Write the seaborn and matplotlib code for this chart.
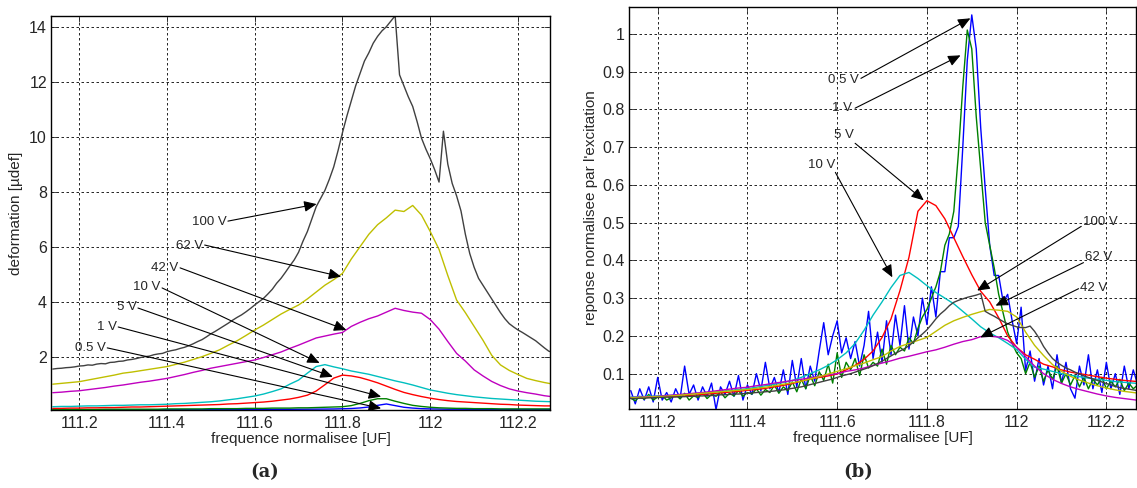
import numpy as np
import matplotlib.pyplot as plt
import seaborn as sns

sns.set_style('white')
plt.rcParams['font.family'] = ['Liberation Sans', 'DejaVu Sans']

# frequency axes (UF): fine grid 0.01, coarse grid 0.02
freq_fine = np.round(np.arange(11114, 11229) / 100, 2)
freq_coarse = np.round(np.arange(11114, 11229, 2) / 100, 2)

volts = ['0.5 V', '1 V', '5 V', '10 V', '42 V', '62 V', '100 V']

# ---- panel (a): deformation [udef] ----
a_100 = [1.55, 1.57, 1.58, 1.60, 1.61, 1.63, 1.66, 1.67, 1.70, 1.69,
         1.73, 1.75, 1.74, 1.79, 1.80, 1.83, 1.84, 1.88, 1.90, 1.93,
         1.97, 2.00, 2.02, 2.07, 2.10, 2.12, 2.18, 2.22, 2.25, 2.30,
         2.34, 2.40, 2.47, 2.55, 2.62, 2.72, 2.83, 2.92, 3.02, 3.12,
         3.22, 3.33, 3.43, 3.52, 3.63, 3.75, 3.88, 4.00, 4.12, 4.28,
         4.45, 4.67, 4.85, 5.07, 5.30, 5.52, 5.80, 6.20, 6.55, 7.00,
         7.45, 7.75, 8.05, 8.45, 8.90, 9.50, 10.15, 10.75, 11.30, 11.85,
         12.30, 12.75, 13.05, 13.40, 13.65, 13.85, 14.00, 14.20, 14.40, 12.25,
         11.85, 11.45, 11.10, 10.55, 9.95, 9.55, 9.20, 8.80, 8.35, 10.20,
         9.00, 8.30, 7.85, 7.30, 6.45, 5.75, 5.25, 4.85, 4.60, 4.35,
         4.10, 3.85, 3.60, 3.38, 3.20, 3.08, 2.97, 2.88, 2.78, 2.68,
         2.58, 2.45, 2.32, 2.20, 2.15]
a_62 = [1.00, 1.03, 1.06, 1.09, 1.15, 1.21, 1.27, 1.33, 1.40, 1.44,
        1.49, 1.54, 1.59, 1.64, 1.72, 1.80, 1.90, 2.00, 2.12, 2.25,
        2.42, 2.58, 2.77, 2.97, 3.15, 3.35, 3.55, 3.72, 3.88, 4.10,
        4.35, 4.60, 4.80, 5.03, 5.55, 6.00, 6.45, 6.80, 7.05, 7.33,
        7.28, 7.50, 7.15, 6.55, 5.90, 4.95, 4.06, 3.60, 3.10, 2.60,
        2.05, 1.70, 1.50, 1.35, 1.21, 1.13, 1.06, 1.00]
a_42 = [0.69, 0.71, 0.74, 0.76, 0.80, 0.84, 0.88, 0.93, 0.97, 1.02,
        1.07, 1.11, 1.16, 1.21, 1.28, 1.35, 1.43, 1.50, 1.58, 1.64,
        1.70, 1.76, 1.82, 1.88, 1.97, 2.07, 2.17, 2.30, 2.42, 2.55,
        2.68, 2.75, 2.82, 2.88, 3.10, 3.25, 3.38, 3.48, 3.62, 3.76,
        3.68, 3.62, 3.58, 3.35, 3.00, 2.55, 2.12, 1.84, 1.52, 1.30,
        1.10, 0.95, 0.83, 0.75, 0.69, 0.64, 0.58, 0.54]
a_10 = [0.18, 0.19, 0.19, 0.20, 0.21, 0.21, 0.22, 0.23, 0.23, 0.24,
        0.25, 0.25, 0.26, 0.27, 0.29, 0.30, 0.32, 0.34, 0.36, 0.39,
        0.43, 0.47, 0.52, 0.57, 0.64, 0.73, 0.83, 1.00, 1.15, 1.40,
        1.64, 1.71, 1.63, 1.56, 1.48, 1.42, 1.36, 1.28, 1.20, 1.12,
        1.05, 0.97, 0.88, 0.79, 0.73, 0.67, 0.62, 0.58, 0.54, 0.51,
        0.48, 0.46, 0.44, 0.42, 0.40, 0.38, 0.37, 0.36]
a_5 = [0.12, 0.12, 0.13, 0.13, 0.14, 0.14, 0.15, 0.15, 0.16, 0.17,
       0.17, 0.18, 0.19, 0.20, 0.21, 0.22, 0.23, 0.24, 0.25, 0.26,
       0.28, 0.29, 0.31, 0.33, 0.35, 0.38, 0.42, 0.46, 0.52, 0.60,
       0.75, 0.98, 1.22, 1.33, 1.30, 1.24, 1.15, 1.05, 0.93, 0.81,
       0.70, 0.62, 0.55, 0.49, 0.44, 0.40, 0.37, 0.35, 0.33, 0.31,
       0.29, 0.27, 0.26, 0.24, 0.23, 0.22, 0.21, 0.21]
a_1 = [0.08, 0.08, 0.08, 0.08, 0.08, 0.08, 0.09, 0.09, 0.09, 0.09,
       0.09, 0.09, 0.09, 0.10, 0.10, 0.10, 0.10, 0.10, 0.11, 0.11,
       0.11, 0.11, 0.12, 0.12, 0.12, 0.13, 0.13, 0.13, 0.14, 0.14,
       0.15, 0.16, 0.17, 0.18, 0.22, 0.30, 0.40, 0.47, 0.47, 0.38,
       0.30, 0.23, 0.19, 0.16, 0.14, 0.13, 0.12, 0.12, 0.11, 0.11,
       0.11, 0.10, 0.10, 0.10, 0.10, 0.10, 0.10, 0.10]
a_05 = [0.065, 0.065, 0.066, 0.066, 0.067, 0.067, 0.068, 0.068, 0.069, 0.069,
        0.070, 0.070, 0.071, 0.072, 0.072, 0.073, 0.074, 0.075, 0.076, 0.077,
        0.078, 0.079, 0.080, 0.081, 0.082, 0.083, 0.085, 0.086, 0.088, 0.090,
        0.092, 0.095, 0.098, 0.105, 0.115, 0.135, 0.170, 0.230, 0.280, 0.220,
        0.160, 0.130, 0.110, 0.100, 0.095, 0.090, 0.090, 0.088, 0.086, 0.085,
        0.084, 0.083, 0.082, 0.081, 0.080, 0.080, 0.079, 0.079]

# ---- panel (b): response normalised by excitation ----
b_100 = [0.034, 0.034, 0.035, 0.035, 0.036, 0.036, 0.037, 0.037, 0.038, 0.038,
         0.038, 0.039, 0.039, 0.040, 0.040, 0.041, 0.041, 0.042, 0.042, 0.043,
         0.044, 0.044, 0.045, 0.046, 0.046, 0.047, 0.048, 0.049, 0.050, 0.051,
         0.052, 0.053, 0.054, 0.056, 0.057, 0.059, 0.061, 0.063, 0.065, 0.068,
         0.071, 0.074, 0.077, 0.080, 0.083, 0.086, 0.090, 0.094, 0.097, 0.100,
         0.104, 0.108, 0.112, 0.116, 0.121, 0.127, 0.133, 0.140, 0.147, 0.154,
         0.160, 0.166, 0.174, 0.184, 0.195, 0.205, 0.216, 0.230, 0.245, 0.258,
         0.268, 0.280, 0.289, 0.294, 0.298, 0.302, 0.305, 0.308, 0.312, 0.265,
         0.258, 0.252, 0.245, 0.238, 0.232, 0.228, 0.224, 0.222, 0.222, 0.226,
         0.212, 0.194, 0.172, 0.155, 0.140, 0.130, 0.122, 0.115, 0.110, 0.104,
         0.099, 0.094, 0.090, 0.086, 0.082, 0.078, 0.074, 0.070, 0.066, 0.063,
         0.061, 0.059, 0.057, 0.055, 0.054]
b_62 = [0.036, 0.037, 0.038, 0.039, 0.040, 0.042, 0.044, 0.046, 0.048, 0.050,
        0.052, 0.054, 0.056, 0.058, 0.061, 0.064, 0.068, 0.072, 0.076, 0.080,
        0.086, 0.092, 0.099, 0.106, 0.113, 0.121, 0.128, 0.137, 0.145, 0.160,
        0.172, 0.180, 0.188, 0.196, 0.212, 0.228, 0.240, 0.249, 0.257, 0.264,
        0.270, 0.268, 0.265, 0.250, 0.210, 0.175, 0.148, 0.124, 0.106, 0.093,
        0.083, 0.075, 0.068, 0.062, 0.057, 0.053, 0.050, 0.047]
b_42 = [0.037, 0.038, 0.039, 0.040, 0.042, 0.044, 0.046, 0.048, 0.050, 0.053,
        0.056, 0.059, 0.062, 0.064, 0.068, 0.071, 0.075, 0.078, 0.082, 0.085,
        0.089, 0.093, 0.097, 0.100, 0.106, 0.110, 0.115, 0.122, 0.128, 0.134,
        0.141, 0.146, 0.152, 0.158, 0.163, 0.170, 0.178, 0.185, 0.190, 0.198,
        0.199, 0.197, 0.188, 0.170, 0.145, 0.120, 0.100, 0.085, 0.074, 0.065,
        0.058, 0.052, 0.046, 0.041, 0.037, 0.034, 0.031, 0.028]
b_10 = [0.038, 0.039, 0.040, 0.041, 0.042, 0.043, 0.045, 0.047, 0.049, 0.051,
        0.053, 0.055, 0.058, 0.060, 0.064, 0.068, 0.072, 0.077, 0.082, 0.090,
        0.100, 0.110, 0.122, 0.137, 0.155, 0.180, 0.215, 0.255, 0.290, 0.328,
        0.360, 0.368, 0.352, 0.333, 0.315, 0.300, 0.285, 0.265, 0.245, 0.224,
        0.208, 0.195, 0.180, 0.164, 0.138, 0.117, 0.112, 0.106, 0.100, 0.096,
        0.092, 0.088, 0.085, 0.082, 0.079, 0.077, 0.075, 0.073]
b_5 = [0.035, 0.036, 0.037, 0.038, 0.039, 0.040, 0.041, 0.043, 0.045, 0.047,
       0.049, 0.051, 0.053, 0.056, 0.058, 0.061, 0.065, 0.069, 0.074, 0.080,
       0.086, 0.090, 0.094, 0.099, 0.110, 0.122, 0.138, 0.160, 0.196, 0.245,
       0.320, 0.408, 0.530, 0.558, 0.545, 0.510, 0.460, 0.410, 0.362, 0.318,
       0.290, 0.248, 0.200, 0.170, 0.150, 0.138, 0.125, 0.118, 0.110, 0.104,
       0.100, 0.096, 0.092, 0.088, 0.085, 0.082, 0.080, 0.078]
b_1 = [0.035, 0.028, 0.040, 0.032, 0.045, 0.030, 0.038, 0.042, 0.030, 0.036,
       0.044, 0.033, 0.048, 0.030, 0.041, 0.037, 0.050, 0.034, 0.045, 0.040,
       0.052, 0.036, 0.048, 0.041, 0.055, 0.040, 0.050, 0.046, 0.060, 0.043,
       0.058, 0.050, 0.070, 0.048, 0.065, 0.055, 0.078, 0.052, 0.085, 0.060,
       0.095, 0.068, 0.105, 0.082, 0.125, 0.075, 0.155, 0.090, 0.130, 0.110,
       0.140, 0.095, 0.150, 0.115, 0.130, 0.120, 0.165, 0.125, 0.175, 0.150,
       0.170, 0.160, 0.195, 0.180, 0.220, 0.250, 0.270, 0.300, 0.330, 0.370,
       0.440, 0.470, 0.530, 0.680, 0.860, 1.010, 0.960, 0.780, 0.640, 0.500,
       0.440, 0.380, 0.310, 0.260, 0.210, 0.180, 0.155, 0.140, 0.100, 0.130,
       0.090, 0.120, 0.080, 0.110, 0.085, 0.120, 0.075, 0.100, 0.070, 0.095,
       0.065, 0.090, 0.060, 0.085, 0.070, 0.090, 0.060, 0.080, 0.065, 0.085,
       0.055, 0.075, 0.060, 0.070, 0.050]
b_05 = [0.055, 0.020, 0.060, 0.030, 0.065, 0.025, 0.090, 0.030, 0.050, 0.025,
        0.060, 0.035, 0.120, 0.045, 0.070, 0.030, 0.065, 0.040, 0.075, 0.005,
        0.065, 0.045, 0.080, 0.040, 0.095, 0.030, 0.070, 0.045, 0.100, 0.055,
        0.130, 0.060, 0.090, 0.050, 0.110, 0.045, 0.135, 0.065, 0.140, 0.060,
        0.120, 0.080, 0.160, 0.235, 0.150, 0.200, 0.240, 0.155, 0.195, 0.140,
        0.185, 0.120, 0.175, 0.265, 0.140, 0.210, 0.130, 0.240, 0.150, 0.255,
        0.175, 0.280, 0.165, 0.250, 0.200, 0.300, 0.230, 0.330, 0.250, 0.370,
        0.370, 0.460, 0.460, 0.490, 0.700, 0.930, 1.050, 0.960, 0.750, 0.590,
        0.440, 0.360, 0.360, 0.290, 0.310, 0.240, 0.180, 0.276, 0.108, 0.160,
        0.080, 0.140, 0.070, 0.120, 0.060, 0.150, 0.075, 0.130, 0.060, 0.035,
        0.120, 0.070, 0.150, 0.060, 0.110, 0.050, 0.130, 0.060, 0.100, 0.045,
        0.120, 0.060, 0.110, 0.070, 0.100]

# old MATLAB colour order
colors = ['#0000ff', '#008000', '#ff0000', '#00bfbf', '#bf00bf', '#bfbf00', '#404040']

series_a = [(freq_coarse, a_05), (freq_coarse, a_1), (freq_coarse, a_5), (freq_coarse, a_10),
            (freq_coarse, a_42), (freq_coarse, a_62), (freq_fine, a_100)]
series_b = [(freq_fine, b_05), (freq_fine, b_1), (freq_coarse, b_5), (freq_coarse, b_10),
            (freq_coarse, b_42), (freq_coarse, b_62), (freq_fine, b_100)]

fig = plt.figure(figsize=(11.37, 4.88), dpi=100)
ax_a = fig.add_axes([0.0449, 0.1598, 0.4389, 0.8074])
ax_b = fig.add_axes([0.5532, 0.1619, 0.4459, 0.8238])


def style_axes(ax):
    ax.grid(True, color='k', ls=(0, (3, 3)), lw=0.6)
    ax.set_axisbelow(True)
    for s in ax.spines.values():
        s.set_color('k')
        s.set_linewidth(1.0)
    ax.tick_params(direction='in', length=4, width=0.6, labelsize=11.5,
                   bottom=True, left=True, top=True, right=True,
                   labeltop=False, labelright=False)
    ax.tick_params(axis='x', pad=4)
    ax.tick_params(axis='y', pad=3)


def arrow_label(ax, text, text_xy, tail, tip, ha):
    ax.text(text_xy[0], text_xy[1], text, ha=ha, va='center', fontsize=9.5)
    ax.annotate('', xy=tip, xytext=tail,
                arrowprops=dict(arrowstyle='-|>,head_length=0.75,head_width=0.33',
                                color='k', lw=0.8, shrinkA=0, shrinkB=0))


for (f, v), c in zip(series_a, colors):
    sns.lineplot(x=f, y=v, ax=ax_a, color=c, lw=1.0, estimator=None, sort=False, legend=False)
for (f, v), c in zip(series_b, colors):
    sns.lineplot(x=f, y=v, ax=ax_b, color=c, lw=1.0, estimator=None, sort=False, legend=False)

xt = [111.2, 111.4, 111.6, 111.8, 112.0, 112.2]
xtl = ['111.2', '111.4', '111.6', '111.8', '112', '112.2']

# panel (a)
style_axes(ax_a)
ax_a.set_xlim(111.136, 112.273)
ax_a.set_ylim(0.06, 14.39)
ax_a.set_xticks(xt)
ax_a.set_xticklabels(xtl)
ax_a.set_yticks([2, 4, 6, 8, 10, 12, 14])
ax_a.set_xlabel('frequence normalisee [UF]', fontsize=11, labelpad=1)
ax_a.set_ylabel('deformation [\u00b5def]', fontsize=11, labelpad=4)

arrow_label(ax_a, '100 V', (111.536, 6.91), (111.539, 6.93), (111.741, 7.55), 'right')
arrow_label(ax_a, '62 V', (111.482, 6.02), (111.486, 6.06), (111.797, 4.91), 'right')
arrow_label(ax_a, '42 V', (111.425, 5.23), (111.430, 5.23), (111.809, 2.97), 'right')
arrow_label(ax_a, '10 V', (111.384, 4.53), (111.389, 4.50), (111.748, 1.77), 'right')
arrow_label(ax_a, '5 V', (111.332, 3.81), (111.334, 3.77), (111.778, 1.27), 'right')
arrow_label(ax_a, '1 V', (111.286, 3.08), (111.289, 3.08), (111.888, 0.545), 'right')
arrow_label(ax_a, '0.5 V', (111.261, 2.32), (111.264, 2.32), (111.888, 0.12), 'right')

# panel (b)
style_axes(ax_b)
ax_b.set_xlim(111.136, 112.266)
ax_b.set_ylim(0.0064, 1.071)
ax_b.set_xticks(xt)
ax_b.set_xticklabels(xtl)
ax_b.set_yticks([0.1, 0.2, 0.3, 0.4, 0.5, 0.6, 0.7, 0.8, 0.9, 1.0])
ax_b.set_yticklabels(['0.1', '0.2', '0.3', '0.4', '0.5', '0.6', '0.7', '0.8', '0.9', '1'])
ax_b.set_xlabel('frequence normalisee [UF]', fontsize=11, labelpad=1)
ax_b.set_ylabel("reponse normalisee par l'excitation", fontsize=11, labelpad=3)

arrow_label(ax_b, '0.5 V', (111.649, 0.877), (111.653, 0.882), (111.897, 1.041), 'right')
arrow_label(ax_b, '1 V', (111.633, 0.803), (111.640, 0.803), (111.875, 0.943), 'right')
arrow_label(ax_b, '5 V', (111.638, 0.731), (111.640, 0.710), (111.793, 0.559), 'right')
arrow_label(ax_b, '10 V', (111.596, 0.652), (111.596, 0.633), (111.723, 0.355), 'right')
arrow_label(ax_b, '100 V', (112.149, 0.501), (112.144, 0.490), (111.912, 0.320), 'left')
arrow_label(ax_b, '62 V', (112.153, 0.408), (112.149, 0.394), (111.953, 0.280), 'left')
arrow_label(ax_b, '42 V', (112.142, 0.328), (112.138, 0.325), (111.919, 0.196), 'left')

fig.text(265 / 1137, 0.033, '(a)', ha='center', va='center', fontsize=13,
         fontweight='bold', family='DejaVu Serif')
fig.text(858 / 1137, 0.033, '(b)', ha='center', va='center', fontsize=13,
         fontweight='bold', family='DejaVu Serif')

fig.savefig('out.png', dpi=100)
